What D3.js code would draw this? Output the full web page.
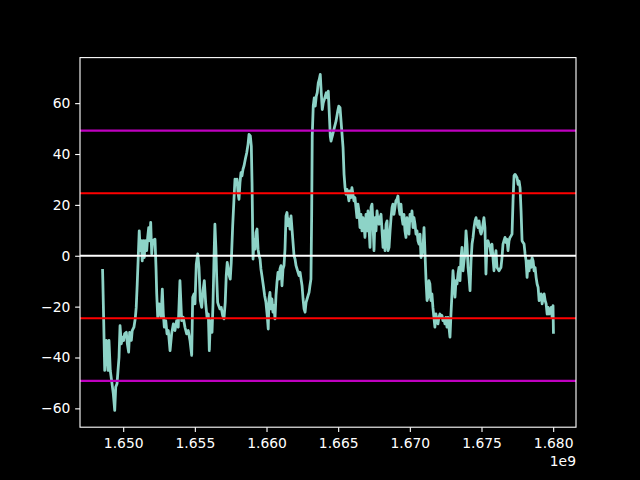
<!DOCTYPE html>
<html lang="en">
<head>
<meta charset="utf-8">
<title>Series with sigma bands</title>
<script src="https://cdn.jsdelivr.net/npm/d3@7/dist/d3.min.js"></script>
<style>
  body { margin: 0; background: #000; }
  svg { display: block; }
</style>
</head>
<body>
<svg width="640" height="480"></svg>
<script>
// x values in millions of seconds (unix time / 1e6)
var tMil = [
  1648.56,1648.58,1648.60,1648.64,1648.71,1648.82,1648.89,1648.94,1649.01,1649.10,
  1649.22,1649.31,1649.41,1649.48,1649.57,1649.64,1649.71,1649.78,1649.87,1649.94,
  1650.03,1650.10,1650.22,1650.29,1650.38,1650.45,1650.57,1650.63,1650.75,1650.84,
  1650.91,1650.98,1651.05,1651.12,1651.19,1651.26,1651.33,1651.40,1651.47,1651.54,
  1651.64,1651.71,1651.78,1651.85,1651.92,1651.99,1652.06,
  1652.22,1652.29,1652.34,1652.41,1652.50,1652.57,1652.64,1652.73,1652.80,1652.87,
  1652.97,1653.06,1653.15,1653.27,1653.38,1653.50,1653.61,1653.73,1653.84,1653.96,
  1654.08,1654.19,1654.31,1654.43,1654.54,1654.66,1654.78,1654.85,1654.94,1655.01,
  1655.10,1655.20,1655.29,1655.38,1655.48,1655.57,1655.66,1655.76,1655.85,1655.94,
  1656.01,1656.08,
  1656.20,1656.27,1656.34,1656.40,1656.47,1656.52,1656.59,1656.66,1656.75,1656.84,
  1656.94,1657.03,1657.12,1657.19,1657.26,1657.33,1657.40,1657.47,1657.54,1657.64,
  1657.73,1657.80,1657.87,1657.94,1658.01,1658.08,1658.15,1658.22,1658.29,1658.36,
  1658.43,1658.52,1658.62,1658.71,1658.78,1658.87,1658.94,1658.99,1659.06,1659.13,
  1659.20,1659.27,1659.34,1659.41,1659.48,1659.55,1659.61,1659.68,1659.78,1659.87,
  1659.96,1660.05,1660.12,
  1660.17,1660.24,1660.31,1660.38,1660.45,1660.52,1660.59,1660.66,1660.73,1660.80,
  1660.87,1660.94,1661.01,1661.08,1661.15,1661.22,1661.29,1661.36,1661.43,1661.50,
  1661.57,1661.64,1661.71,1661.78,1661.85,1661.92,1661.99,1662.06,1662.13,1662.20,
  1662.27,1662.34,1662.41,1662.48,1662.55,1662.62,1662.69,1662.76,1662.83,1662.90,
  1662.97,1663.03,1663.10,1663.15,1663.19,1663.26,1663.33,1663.40,1663.47,1663.54,
  1663.61,1663.68,1663.75,1663.82,1663.89,1663.96,1664.03,1664.10,1664.17,1664.24,
  1664.31,
  1664.38,1664.45,1664.50,1664.62,1664.73,1664.85,1664.97,1665.04,1665.13,1665.20,
  1665.27,1665.34,1665.41,1665.48,1665.55,1665.62,1665.68,1665.75,1665.82,1665.89,
  1665.96,1666.03,1666.10,1666.17,1666.24,1666.31,1666.38,1666.45,1666.52,1666.59,
  1666.66,1666.73,1666.80,1666.87,1666.94,1667.01,1667.08,1667.15,1667.22,1667.29,
  1667.36,1667.43,1667.50,1667.57,1667.64,1667.71,1667.78,1667.85,1667.92,1667.99,
  1668.06,
  1668.13,1668.20,1668.27,1668.34,1668.41,1668.48,1668.55,1668.62,1668.69,1668.76,
  1668.82,1668.89,1668.96,1669.03,1669.10,1669.17,1669.24,1669.31,1669.38,1669.45,
  1669.52,1669.59,1669.66,1669.73,1669.80,1669.87,1669.94,1670.01,1670.08,1670.15,
  1670.22,1670.29,1670.36,1670.43,1670.50,1670.57,1670.64,1670.71,1670.78,1670.85,
  1670.92,1670.99,1671.06,1671.13,1671.20,1671.27,1671.33,1671.40,1671.47,1671.54,
  1671.61,1671.68,1671.75,1671.82,1671.89,1671.96,1672.03,
  1672.10,1672.17,1672.24,1672.31,1672.38,1672.45,1672.52,1672.59,1672.66,1672.73,
  1672.80,1672.87,1672.94,1673.01,1673.08,1673.15,1673.22,1673.29,1673.36,1673.43,
  1673.50,1673.57,1673.64,1673.71,1673.78,1673.85,1673.92,1673.99,1674.06,1674.13,
  1674.20,1674.27,1674.34,1674.41,1674.48,1674.55,1674.62,1674.69,1674.76,1674.83,
  1674.90,1674.97,1675.03,1675.10,1675.17,1675.24,1675.31,1675.38,1675.45,1675.52,
  1675.59,1675.66,1675.73,1675.80,1675.87,1675.94,1676.01,
  1676.08,1676.15,1676.22,1676.29,1676.36,1676.43,1676.50,1676.57,1676.64,1676.71,
  1676.78,1676.85,1676.92,1676.99,1677.06,1677.13,1677.20,1677.27,1677.34,1677.41,
  1677.48,1677.55,1677.62,1677.69,1677.76,1677.83,1677.90,1677.97,1678.04,1678.11,
  1678.18,1678.25,1678.32,1678.39,1678.46,1678.53,1678.60,1678.67,1678.74,1678.81,
  1678.88,1678.95,1679.02,1679.09,1679.16,1679.23,1679.30,1679.37,1679.44,1679.51,
  1679.58,1679.65,1679.72,1679.79,1679.86,1679.93,1679.99,1680.02
];
var score = [
  -5.2,-9.8,-15.0,-25.5,-45.1,-33.3,-38.6,-45.1,-33.3,-45.1,
  -50.3,-54.2,-60.8,-51.6,-50.3,-45.1,-39.9,-27.5,-34.6,-32.0,
  -33.3,-30.7,-30.1,-34.6,-37.9,-30.1,-33.3,-29.4,-28.1,-24.8,
  -20.3,-11.1,-0.7,9.8,2.0,5.9,-2.0,5.9,-0.7,5.9,
  2.0,7.2,11.1,5.9,13.1,0.7,5.9,
  6.5,-4.6,-15.0,-24.2,-18.9,-21.6,-24.2,-13.1,-22.9,-28.1,
  -25.5,-30.7,-29.4,-37.3,-30.7,-26.8,-29.4,-25.5,-28.1,-9.8,
  -25.5,-24.2,-28.1,-30.7,-29.4,-33.3,-39.2,-16.3,-15.0,-18.9,
  -3.3,0.7,-4.6,-17.6,-20.3,-13.7,-9.8,-18.9,-24.2,-22.9,
  -37.3,-25.5,
  -30.1,-18.3,0.0,12.4,2.6,-7.8,-18.3,-19.6,-20.9,-20.3,
  -23.5,-24.8,-18.3,-7.8,-2.6,-5.2,-7.8,-9.2,-2.6,11.8,
  22.2,30.1,28.8,30.1,24.8,22.2,28.8,32.7,31.4,34.0,
  35.3,37.9,40.5,43.8,47.7,47.1,43.1,28.8,-1.3,6.5,
  2.6,9.2,10.5,2.6,0.0,-1.3,-5.2,-7.8,-11.8,-15.7,
  -18.3,-23.5,-28.8,
  -17.0,-14.4,-20.9,-17.0,-22.2,-19.6,-24.8,-15.7,-10.5,-6.5,
  -9.2,-5.2,-3.9,-11.8,-5.2,-3.9,2.6,15.7,17.0,11.8,
  14.4,10.5,15.7,10.5,5.2,0.0,-1.3,-3.9,-5.2,-6.5,
  -7.8,-6.5,-9.2,-11.8,-17.0,-20.9,-22.2,-18.3,-17.0,-15.7,
  -14.4,-11.8,-9.2,15.7,47.1,58.8,62.1,58.8,62.7,64.1,
  68.0,69.3,71.3,64.1,57.5,60.1,61.4,62.7,64.1,62.1,
  64.7,
  56.0,47.0,45.1,47.7,50.3,52.9,56.9,58.8,58.2,52.9,
  47.7,42.5,32.0,26.8,24.2,26.1,24.2,21.6,25.5,22.9,
  26.8,24.2,21.6,22.9,19.0,15.0,20.3,17.6,11.1,16.3,
  9.8,15.0,12.4,7.2,16.3,9.8,17.6,11.1,3.3,19.0,
  20.3,12.4,2.0,15.0,9.8,17.6,13.7,12.4,15.0,16.3,
  9.8,
  3.3,9.8,2.0,12.4,13.7,2.0,3.3,9.8,15.0,19.0,
  20.3,16.3,19.0,21.6,22.2,23.5,19.0,16.3,20.3,15.0,
  12.4,16.3,9.8,7.2,15.0,12.4,8.5,16.3,13.7,17.6,
  11.1,15.0,12.4,8.5,9.8,5.9,4.6,8.5,-0.7,0.7,
  3.3,11.1,0.7,-9.8,-17.6,-16.3,-9.8,-11.1,-17.6,-15.0,
  -20.3,-24.2,-28.1,-22.9,-25.5,-26.8,-24.2,
  -22.9,-24.2,-23.5,-25.5,-24.8,-26.8,-24.2,-28.1,-24.2,-28.1,
  -32.0,-22.9,-15.0,-5.9,-11.1,-16.3,-9.8,-11.1,-7.2,-4.6,
  -9.8,-0.7,3.3,-5.9,-2.0,0.7,9.8,4.6,-4.6,-8.5,
  -13.7,-2.0,4.6,7.2,11.1,13.7,15.0,12.4,11.1,13.7,
  9.8,8.5,9.8,12.4,15.0,11.1,-7.2,4.6,5.9,4.6,
  3.3,0.7,4.6,-0.7,-5.9,-0.7,2.0,
  -4.6,-5.2,-5.9,-5.2,-4.6,-0.7,4.6,5.9,7.2,5.2,
  6.5,2.0,5.9,7.2,7.8,8.5,21.6,31.4,32.0,31.4,
  30.7,28.1,29.4,26.8,17.6,5.9,5.2,4.6,0.7,-2.0,
  -8.5,-2.0,-5.9,-2.0,-4.6,-0.7,-2.0,-5.9,-4.6,-8.5,
  -11.1,-12.4,-17.6,-16.3,-15.0,-18.9,-16.3,-15.0,-17.6,-18.9,
  -22.9,-20.3,-22.9,-21.6,-20.3,-24.2,-19.6,-30.7
];
// horizontal reference levels: zero, +-1 sigma, +-2 sigma
var zeroLevel = [0];
var sigmaLevels = [24.6, -24.6];
var twoSigmaLevels = [49.2, -49.2];
var xTicks = [1.650e9, 1.655e9, 1.660e9, 1.665e9, 1.670e9, 1.675e9, 1.680e9];
var yTicks = [-60, -40, -20, 0, 20, 40, 60];

var W = 640, H = 480;
var pt = 100 / 72;
var plotLeft = 80, plotRight = 576, plotTop = 57.6, plotBottom = 427.2;
var fontFam = "DejaVu Sans, sans-serif";
var fontSize = 10 * pt;

var svg = d3.select("svg");
svg.append("rect").attr("width", W).attr("height", H).attr("fill", "#000");

var xs = tMil.map(function(t) { return t * 1e6; });
var xExt = d3.extent(xs);
var yExt = d3.extent(score);
var xPad = (xExt[1] - xExt[0]) * 0.05;
var yPad = (yExt[1] - yExt[0]) * 0.05;

var x = d3.scaleLinear().domain([xExt[0] - xPad, xExt[1] + xPad]).range([plotLeft, plotRight]);
var y = d3.scaleLinear().domain([yExt[0] - yPad, yExt[1] + yPad]).range([plotBottom, plotTop]);

var line = d3.line()
    .x(function(d, i) { return x(xs[i]); })
    .y(function(d) { return y(d); });

svg.append("path")
    .datum(score)
    .attr("d", line)
    .attr("fill", "none")
    .attr("stroke", "#8dd3c7")
    .attr("stroke-width", 2 * pt)
    .attr("stroke-linejoin", "round");

function hlines(levels, color) {
    svg.append("g").selectAll("line")
        .data(levels)
        .enter()
        .append("line")
        .attr("x1", plotLeft)
        .attr("x2", plotRight)
        .attr("y1", function(d) { return y(d); })
        .attr("y2", function(d) { return y(d); })
        .attr("stroke", color)
        .attr("stroke-width", 1.5 * pt);
}
hlines(zeroLevel, "#ffffff");
hlines(sigmaLevels, "#ff0000");
hlines(twoSigmaLevels, "#bf00bf");

// spines
svg.append("rect")
    .attr("x", plotLeft)
    .attr("y", plotTop)
    .attr("width", plotRight - plotLeft)
    .attr("height", plotBottom - plotTop)
    .attr("fill", "none")
    .attr("stroke", "#fff")
    .attr("stroke-width", 0.8 * pt);

var xAxis = d3.axisBottom(x)
    .tickValues(xTicks)
    .tickSize(3.5 * pt)
    .tickPadding(6.3)
    .tickFormat(function(d) { return (d / 1e9).toFixed(3); });
var yAxis = d3.axisLeft(y)
    .tickValues(yTicks)
    .tickSize(3.5 * pt)
    .tickPadding(3.5 * pt)
    .tickFormat(d3.format("d"));

var gx = svg.append("g").attr("transform", "translate(0," + plotBottom + ")").call(xAxis);
var gy = svg.append("g").attr("transform", "translate(" + plotLeft + ",0)").call(yAxis);

[gx, gy].forEach(function(g) {
    g.select(".domain").remove();
    g.attr("font-family", fontFam).attr("font-size", fontSize);
    g.selectAll(".tick line").attr("stroke", "#fff").attr("stroke-width", 0.8 * pt);
    g.selectAll(".tick text").attr("fill", "#fff");
});

// offset text for x axis
svg.append("text")
    .attr("x", plotRight)
    .attr("y", 466)
    .attr("text-anchor", "end")
    .attr("fill", "#fff")
    .attr("font-family", fontFam)
    .attr("font-size", fontSize)
    .text("1e9");
</script>
</body>
</html>
